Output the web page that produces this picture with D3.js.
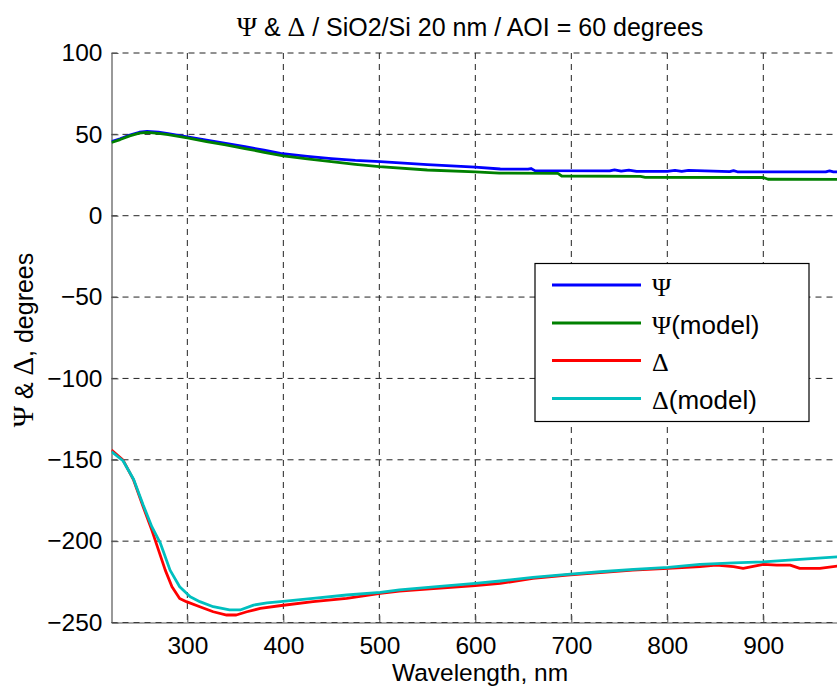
<!DOCTYPE html>
<html>
<head>
<meta charset="utf-8">
<script src="https://cdn.jsdelivr.net/npm/d3@7"></script>
<style>
  html, body { margin: 0; padding: 0; background: #fff; }
  svg { display: block; }
  text { font-family: "Liberation Sans", Arial, Helvetica, sans-serif; fill: #000; }
  .sym { font-family: "Liberation Serif", "Times New Roman", serif; }
</style>
</head>
<body>
<svg id="chart" width="837" height="690"></svg>
<script>
// ---------------- data ----------------
const xTicks = [300, 400, 500, 600, 700, 800, 900];
const yTicks = [-250, -200, -150, -100, -50, 0, 50, 100];

const psiWl   = [221,230,240,250,258,270,280,300,320,340,360,380,397,425,450,475,501,550,600,626,655,658,662,740,745,752,760,768,800,808,815,822,865,869,873,965,969,973,1000];
const psiVals = [45.5,47.3,49.6,51.3,51.8,51.3,50.5,48.5,46.5,44.5,42.4,40.3,38.3,36.5,35.1,34,33.2,31.4,29.8,28.7,28.6,29.0,27.7,27.5,28.1,27.4,28.0,27.3,27.3,27.9,27.3,27.9,27.1,27.7,27.0,27.0,27.6,27.0,26.9];

const psiModelWl   = [221,230,240,250,258,270,280,300,320,340,360,380,400,425,450,475,500,550,600,625,686,690,772,777,900,905,1000];
const psiModelVals = [45,46.8,49.1,50.7,51.2,50.6,49.8,47.8,45.6,43.5,41.3,39,36.8,34.9,33.2,31.6,30.2,28.1,27,26.2,26.0,24.4,24.2,23.6,23.5,22.4,22.3];

const deltaWl   = [221,233,244,254,263,270,277,284,292,299,313,327,341,351,362,376,396,431,466,501,521,560,600,626,660,696,730,764,801,834,851,869,879,900,914,928,938,959,977,1000];
const deltaVals = [-144,-150.2,-162.4,-178.9,-193.2,-205.5,-217.8,-228,-235.2,-237.2,-240.3,-243.4,-245.4,-245.4,-243.4,-241.3,-239.7,-237.2,-235.2,-232.1,-230.7,-229,-227.3,-226,-222.9,-220.8,-219.4,-217.8,-216.7,-215.7,-214.7,-215.7,-216.7,-214.3,-214.7,-214.7,-216.7,-216.7,-215.3,-215];

const deltaModelWl   = [221,233,244,254,263,272,282,292,303,313,327,344,355,369,383,397,431,466,501,521,560,600,626,660,696,730,765,801,834,869,900,938,977,1000];
const deltaModelVals = [-145,-150.6,-162,-177.8,-191.1,-201.4,-217.8,-228,-234.2,-237.2,-240.3,-242.3,-242.3,-239.3,-237.9,-237.2,-235.2,-233.1,-231.5,-230,-228,-226,-224.5,-222.3,-220.4,-218.8,-217.3,-216.1,-214.3,-213.3,-212.7,-211.2,-209.6,-209];

const seriesNames  = ["Ψ", "Ψ(model)", "Δ", "Δ(model)"];
const seriesColors = ["#0000ff", "#008000", "#ff0000", "#00bfbf"];

// ---------------- layout ----------------
const svg = d3.select("#chart");
const pLeft = 111.5, pRight = 859.3, pTop = 53, pBottom = 622.5;
const x = d3.scaleLinear().domain([221, 1000]).range([pLeft, pRight]);
const y = d3.scaleLinear().domain([-250, 100]).range([pBottom, pTop]);

svg.append("defs").append("clipPath").attr("id", "clip")
  .append("rect").attr("x", pLeft).attr("y", pTop - 3)
  .attr("width", pRight - pLeft).attr("height", pBottom - pTop + 6);

// grid
const grid = svg.append("g");
grid.selectAll("line.vg").data(xTicks).join("line").attr("class", "vg")
  .attr("x1", d => x(d)).attr("x2", d => x(d))
  .attr("y1", pTop).attr("y2", pBottom)
  .attr("stroke", "#222").attr("stroke-width", 1).attr("stroke-dasharray", "6,5");
grid.selectAll("line.hg").data(yTicks).join("line").attr("class", "hg")
  .attr("x1", pLeft).attr("x2", pRight)
  .attr("y1", d => y(d)).attr("y2", d => y(d))
  .attr("stroke", "#222").attr("stroke-width", 1).attr("stroke-dasharray", "6,5");

// axes
const xAxis = d3.axisBottom(x).tickValues(xTicks).tickSizeInner(-7).tickSizeOuter(0).tickPadding(14);
const yAxis = d3.axisLeft(y).tickValues(yTicks).tickSizeInner(-7).tickSizeOuter(0).tickPadding(9);

const gx = svg.append("g").attr("transform", `translate(0,${pBottom})`).call(xAxis);
const gy = svg.append("g").attr("transform", `translate(${pLeft},0)`).call(yAxis);
[gx, gy].forEach(g => {
  g.select(".domain").attr("stroke", "#555").attr("stroke-width", 1.2);
  g.selectAll(".tick line").attr("stroke", "#555");
  g.selectAll(".tick text").attr("font-size", 24.5).attr("font-family", "Liberation Sans, Arial, sans-serif").attr("fill", "#000");
});

// lines
const lineGen = d3.line().x(d => x(d[0])).y(d => y(d[1]));
const series = [
  d3.zip(psiWl, psiVals),
  d3.zip(psiModelWl, psiModelVals),
  d3.zip(deltaWl, deltaVals),
  d3.zip(deltaModelWl, deltaModelVals)
];
const plot = svg.append("g").attr("clip-path", "url(#clip)");
series.forEach((s, i) => {
  plot.append("path").datum(s)
    .attr("d", lineGen)
    .attr("fill", "none")
    .attr("stroke", seriesColors[i])
    .attr("stroke-width", 2.8)
    .attr("stroke-linejoin", "round");
});

// title
const title = svg.append("text").attr("x", 470).attr("y", 36)
  .attr("text-anchor", "middle").attr("font-size", 25);
title.append("tspan").attr("class", "sym").attr("font-size", "1.1em").text("Ψ");
title.append("tspan").text(" & ");
title.append("tspan").attr("class", "sym").attr("font-size", "1.1em").text("Δ");
title.append("tspan").text(" / SiO2/Si 20 nm / AOI = 60 degrees");

// x label
svg.append("text").attr("x", 480).attr("y", 681)
  .attr("text-anchor", "middle").attr("font-size", 24.5).text("Wavelength, nm");

// y label
const yl = svg.append("text").attr("transform", "translate(33,340) rotate(-90)")
  .attr("text-anchor", "middle").attr("font-size", 25);
yl.append("tspan").attr("class", "sym").attr("font-size", "1.15em").text("Ψ");
yl.append("tspan").text(" & ");
yl.append("tspan").attr("class", "sym").attr("font-size", "1.15em").text("Δ");
yl.append("tspan").text(", degrees");

// legend
const lg = svg.append("g");
lg.append("rect").attr("x", 535).attr("y", 263.5).attr("width", 274).attr("height", 158)
  .attr("fill", "#fff").attr("stroke", "#000").attr("stroke-width", 1.2);
const rowY = [285, 323, 360.5, 398.5];
seriesNames.forEach((name, i) => {
  lg.append("line").attr("x1", 552).attr("x2", 641).attr("y1", rowY[i]).attr("y2", rowY[i])
    .attr("stroke", seriesColors[i]).attr("stroke-width", 2.8);
  const t = lg.append("text").attr("x", 652).attr("y", rowY[i] + 10.5).attr("font-size", 26);
  t.append("tspan").attr("class", "sym").text(name[0]);
  if (name.length > 1) t.append("tspan").text(name.slice(1));
});
</script>
</body>
</html>
